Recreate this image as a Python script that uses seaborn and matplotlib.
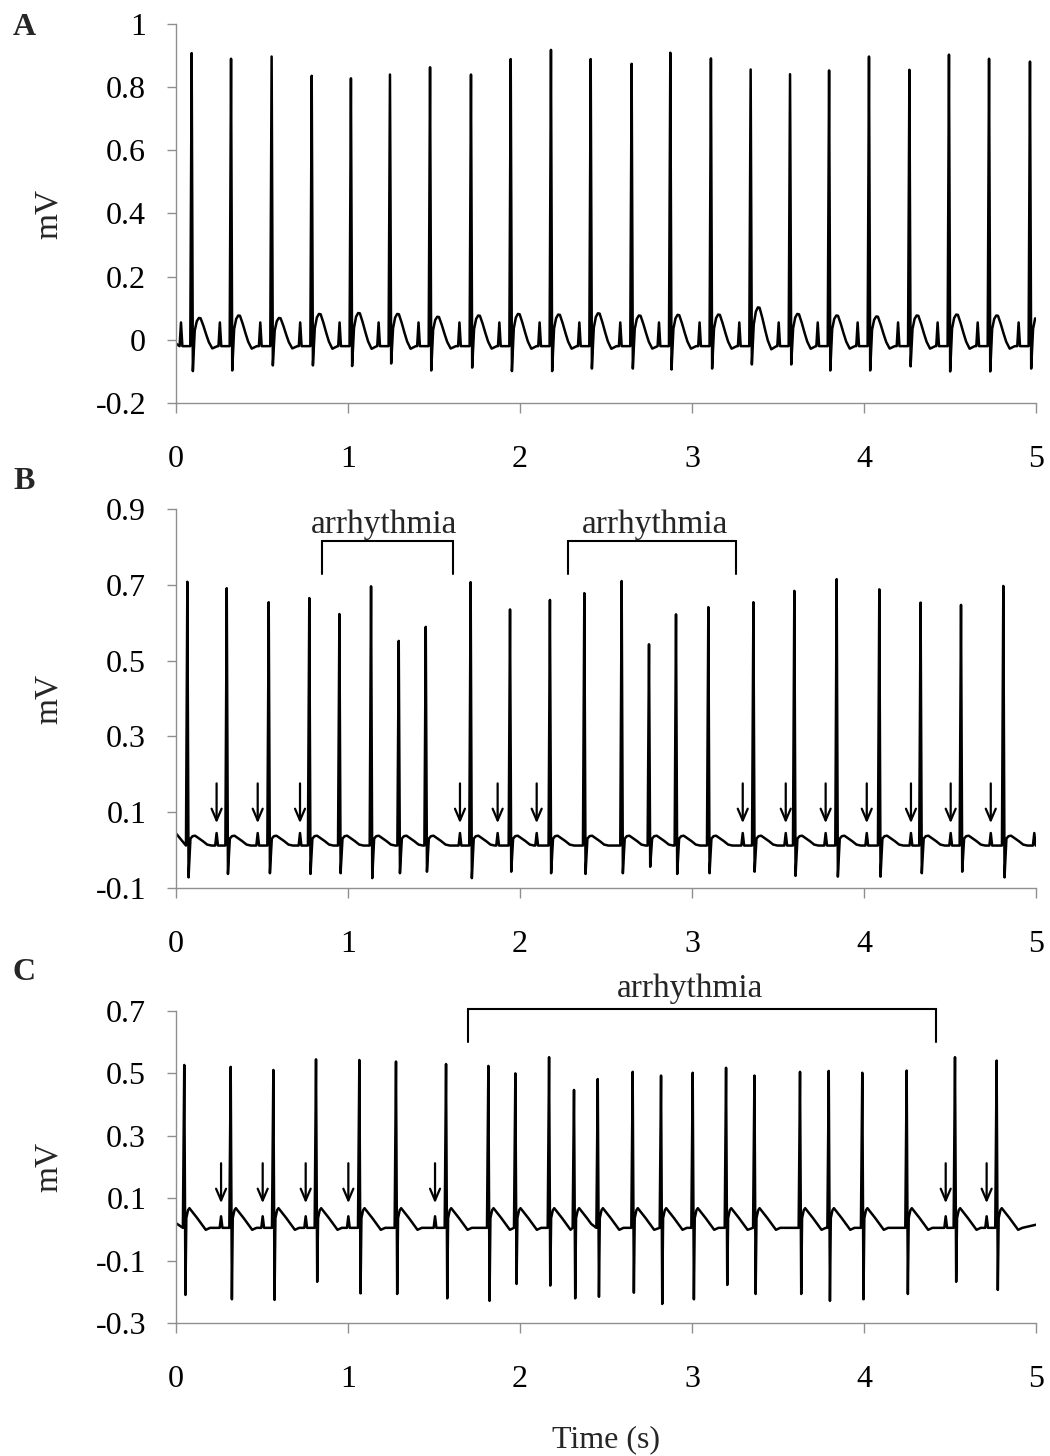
import numpy as np
import pandas as pd
import matplotlib
matplotlib.use("Agg")
import matplotlib.pyplot as plt
import seaborn as sns
from matplotlib.ticker import FixedLocator, FuncFormatter

# ---------------- data ----------------
# Panel A: R-peak times (s), R amplitudes, S amplitudes, T-wave peaks (mV)
A_R_TIME = [0.091, 0.320, 0.556, 0.789, 1.017, 1.244, 1.477, 1.715, 1.946, 2.180, 2.411,
            2.649, 2.874, 3.110, 3.341, 3.570, 3.797, 4.029, 4.264, 4.494, 4.727, 4.965]
A_R_AMP = [0.908, 0.890, 0.897, 0.836, 0.828, 0.840, 0.863, 0.840, 0.889, 0.918, 0.889,
           0.874, 0.909, 0.891, 0.856, 0.841, 0.853, 0.897, 0.855, 0.903, 0.890, 0.881]
A_S_AMP = [-0.099, -0.097, -0.081, -0.081, -0.083, -0.075, -0.097, -0.088, -0.099, -0.099, -0.091,
           -0.091, -0.094, -0.091, -0.078, -0.078, -0.097, -0.097, -0.084, -0.100, -0.100, -0.091]
A_T_AMP = [0.070, 0.078, 0.070, 0.083, 0.086, 0.083, 0.074, 0.078, 0.083, 0.081, 0.085,
           0.078, 0.080, 0.081, 0.104, 0.083, 0.078, 0.075, 0.078, 0.081, 0.078, 0.080]
A_P_TIME = [0.029, 0.255, 0.490, 0.722, 0.951, 1.178, 1.410, 1.648, 1.880, 2.114, 2.345,
            2.583, 2.808, 3.044, 3.275, 3.504, 3.731, 3.963, 4.198, 4.428, 4.661, 4.899]

# Panel B
B_R_TIME = [0.066, 0.295, 0.539, 0.775, 0.950, 1.134, 1.295, 1.452, 1.713, 1.942, 2.174, 2.374,
            2.591, 2.750, 2.907, 3.095, 3.357, 3.595, 3.841, 4.089, 4.329, 4.564, 4.810]
B_R_AMP = [0.708, 0.691, 0.654, 0.665, 0.623, 0.696, 0.552, 0.589, 0.707, 0.635, 0.660, 0.678,
           0.710, 0.543, 0.622, 0.641, 0.654, 0.684, 0.715, 0.688, 0.653, 0.647, 0.697]
B_S_AMP = [-0.072, -0.063, -0.061, -0.063, -0.061, -0.074, -0.061, -0.057, -0.074, -0.057, -0.061, -0.063,
           -0.061, -0.044, -0.063, -0.061, -0.057, -0.068, -0.070, -0.070, -0.061, -0.057, -0.072]
B_ARROW_TIME = [0.236, 0.475, 0.721, 1.651, 1.870, 2.097, 3.295, 3.545, 3.777, 4.016, 4.273, 4.504, 4.737]
B_P_TIME = B_ARROW_TIME + [4.990]
B_BRACKETS = [(0.847, 1.612), (2.281, 3.254)]
B_BRACKET_TEXT_X = [1.212, 2.783]

# Panel C
C_R_TIME = [0.048, 0.318, 0.566, 0.814, 1.066, 1.279, 1.570, 1.816, 1.973, 2.169, 2.314, 2.452,
            2.655, 2.820, 3.004, 3.198, 3.363, 3.628, 3.795, 3.990, 4.248, 4.529, 4.771]
C_R_AMP = [0.527, 0.521, 0.511, 0.545, 0.543, 0.538, 0.530, 0.524, 0.500, 0.552, 0.447, 0.482,
           0.505, 0.493, 0.502, 0.518, 0.493, 0.505, 0.508, 0.502, 0.509, 0.552, 0.541]
C_S_AMP = [-0.210, -0.224, -0.226, -0.168, -0.205, -0.207, -0.221, -0.229, -0.175, -0.180, -0.221, -0.216,
           -0.203, -0.239, -0.224, -0.178, -0.207, -0.207, -0.229, -0.224, -0.207, -0.168, -0.194]
C_ARROW_TIME = [0.262, 0.504, 0.754, 1.002, 1.506, 4.475, 4.713]
C_P_TIME = C_ARROW_TIME
C_BRACKETS = [(1.696, 4.419)]
C_BRACKET_TEXT_X = [2.988]

# levels (mV)
A_LEVELS = dict(base=-0.020, p=0.055, start=-0.012, end=None)
B_LEVELS = dict(base=0.012, t=0.038, p=0.045, start=0.044, end=0.012)
C_LEVELS = dict(base=0.005, t=0.068, p=0.042, start=0.020, end=0.015)

# T-wave outline (offset after R in s, fraction of T height)
A_T_SHAPE = ([0.018, 0.030, 0.042, 0.052, 0.068, 0.085, 0.100, 0.120, 0.150],
             [0.55, 0.88, 0.99, 0.98, 0.72, 0.40, 0.14, -0.08, 0.00])
B_T_SHAPE = ([0.018, 0.030, 0.045, 0.065, 0.090, 0.115, 0.140],
             [0.70, 0.95, 1.00, 0.75, 0.45, 0.10, 0.00])
C_T_SHAPE = ([0.012, 0.022, 0.030, 0.050, 0.075, 0.100, 0.125, 0.150],
             [0.50, 0.90, 1.00, 0.78, 0.50, 0.20, -0.10, 0.00])

YLIMS = {"A": (-0.2, 1.0), "B": (-0.1, 0.9), "C": (-0.3, 0.7)}
YTICKS = {"A": [-0.2, 0, 0.2, 0.4, 0.6, 0.8, 1.0],
          "B": [-0.1, 0.1, 0.3, 0.5, 0.7, 0.9],
          "C": [-0.3, -0.1, 0.1, 0.3, 0.5, 0.7]}
XTICKS = [0, 1, 2, 3, 4, 5]


def build_trace(r_t, r_v, s_v, t_v, p_t, lv, shape, t_end=5.0):
    base = lv["base"]
    pts = [(0.0, lv["start"])]
    for i, (tr, rv, sv) in enumerate(zip(r_t, r_v, s_v)):
        nxt = r_t[i + 1] if i + 1 < len(r_t) else np.inf
        pts.append((tr - 0.008, base))
        pts.append((tr, rv))
        pts.append((tr + 0.007, sv))
        tv = t_v[i] if isinstance(t_v, (list, tuple)) else t_v
        for off, fr in zip(*shape):
            if tr + off < nxt - 0.015:
                pts.append((tr + off, base + fr * (tv - base)))
    for tp in p_t:
        pts += [(tp - 0.008, base), (tp, lv["p"]), (tp + 0.008, base)]
    pts = sorted(p for p in pts if p[0] <= t_end)
    if lv["end"] is not None:
        pts.append((t_end, lv["end"]))
    return pd.DataFrame(pts, columns=["time", "mV"])


# ---------------- styling ----------------
sns.set_theme(style="ticks")
plt.rcParams["font.family"] = ["Liberation Serif", "DejaVu Serif"]
plt.rcParams["axes.unicode_minus"] = False
FS = 23
GRAY = "#8f8f8f"

W, H = 1050, 1456
fig = plt.figure(figsize=(W / 100, H / 100), dpi=100)


def add_axes_px(left, top, right, bottom):
    return fig.add_axes([left / W, 1 - bottom / H, (right - left) / W, (bottom - top) / H])


axA = add_axes_px(176, 24, 1036, 403)
axB = add_axes_px(176, 509, 1036, 888)
axC = add_axes_px(176, 1011, 1036, 1323)

fmt = FuncFormatter(lambda v, pos: f"{round(v, 2) + 0.0:g}")

panels = [
    ("A", axA, build_trace(A_R_TIME, A_R_AMP, A_S_AMP, A_T_AMP, A_P_TIME, A_LEVELS, A_T_SHAPE)),
    ("B", axB, build_trace(B_R_TIME, B_R_AMP, B_S_AMP, B_LEVELS["t"], B_P_TIME, B_LEVELS, B_T_SHAPE)),
    ("C", axC, build_trace(C_R_TIME, C_R_AMP, C_S_AMP, C_LEVELS["t"], C_P_TIME, C_LEVELS, C_T_SHAPE)),
]

for key, ax, df in panels:
    sns.lineplot(data=df, x="time", y="mV", ax=ax, color="black", linewidth=1.8,
                 estimator=None, sort=False, legend=False)
    ax.set_xlim(0, 5)
    ax.set_ylim(*YLIMS[key])
    ax.xaxis.set_major_locator(FixedLocator(XTICKS))
    ax.yaxis.set_major_locator(FixedLocator(YTICKS[key]))
    ax.xaxis.set_major_formatter(fmt)
    ax.yaxis.set_major_formatter(fmt)
    sns.despine(ax=ax)
    for sp in ("left", "bottom"):
        ax.spines[sp].set_color(GRAY)
        ax.spines[sp].set_linewidth(1.0)
    ax.tick_params(axis="x", direction="out", length=7.2, width=1.0, color=GRAY,
                   labelsize=FS, labelcolor="black", pad=23)
    ax.tick_params(axis="y", direction="out", length=6.5, width=1.0, color=GRAY,
                   labelsize=FS, labelcolor="black", pad=15)
    ax.set_xlabel("")
    ax.set_ylabel("mV", fontsize=FS + 1)
    ax.yaxis.set_label_coords(-0.13, 0.5)
    ax.set_facecolor("white")

axC.set_xlabel("Time (s)", fontsize=FS)
axC.xaxis.set_label_coords(0.5, -0.327)

# arrows marking P waves
ARROW_LEVELS = {"B": (0.176, 0.071), "C": (0.212, 0.084)}
for key, ax, times in (("B", axB, B_ARROW_TIME), ("C", axC, C_ARROW_TIME)):
    top, tip = ARROW_LEVELS[key]
    for t in times:
        ax.annotate("", xy=(t, tip), xytext=(t, top),
                    arrowprops=dict(arrowstyle="->, head_length=0.7, head_width=0.3",
                                    lw=1.6, color="black", shrinkA=0, shrinkB=0))

# arrhythmia brackets
BRACKET_LEVELS = {"B": (0.728, 0.816, 0.836), "C": (0.600, 0.706, 0.746)}
for key, ax, spans, txs in (("B", axB, B_BRACKETS, B_BRACKET_TEXT_X),
                            ("C", axC, C_BRACKETS, C_BRACKET_TEXT_X)):
    lo, hi, ty = BRACKET_LEVELS[key]
    for (x0, x1), tx in zip(spans, txs):
        ax.plot([x0, x0, x1, x1], [lo, hi, hi, lo], color="black", lw=1.5,
                clip_on=False, solid_joinstyle="miter")
        ax.text(tx, ty, "arrhythmia", fontsize=FS + 1, ha="center", va="baseline",
                clip_on=False)

# panel letters
for letter, ypx in (("A", 35), ("B", 489), ("C", 980)):
    fig.text(24 / W, 1 - ypx / H, letter, fontsize=FS, fontweight="bold",
             ha="center", va="baseline")

fig.savefig("out.png", dpi=100, facecolor="white")
